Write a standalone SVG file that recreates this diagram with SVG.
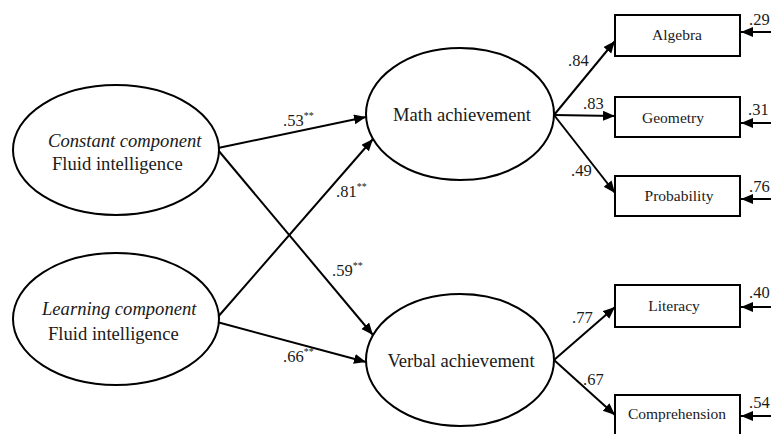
<svg xmlns="http://www.w3.org/2000/svg" width="771" height="434" viewBox="0 0 771 434">
<style>
.shape{fill:#fff;stroke:#000;stroke-width:2}
.edge{stroke:#000;stroke-width:2;fill:none;marker-end:url(#ah)}
text{font-family:"Liberation Serif","Times New Roman",serif;fill:#1a1a1a}
.big{font-size:18.6px}
.mid{font-size:15.5px}
.lab{font-size:16.5px}
.sup{font-size:10px}
.c{text-anchor:middle}
</style>
<defs>
<marker id="ah" markerUnits="userSpaceOnUse" markerWidth="14" markerHeight="12" refX="12" refY="5" orient="auto">
<path d="M0,0 L12,5 L0,10 Z" fill="#000"/>
</marker>
</defs>
<rect width="771" height="434" fill="#fff"/>
<g id="connectors">
<line class="edge" x1="218" y1="148" x2="366" y2="117"/>
<line class="edge" x1="217" y1="318" x2="373" y2="139"/>
<line class="edge" x1="218" y1="150" x2="373" y2="335"/>
<line class="edge" x1="217" y1="322" x2="366" y2="362"/>
<line class="edge" x1="554" y1="115" x2="615" y2="41"/>
<line class="edge" x1="554" y1="115" x2="615" y2="116"/>
<line class="edge" x1="554" y1="115" x2="615" y2="193"/>
<line class="edge" x1="554" y1="360" x2="615" y2="307"/>
<line class="edge" x1="554" y1="360" x2="615" y2="415"/>
<line class="edge" x1="771" y1="32" x2="741" y2="32"/>
<line class="edge" x1="771" y1="123" x2="741" y2="123"/>
<line class="edge" x1="771" y1="199" x2="741" y2="199"/>
<line class="edge" x1="771" y1="307" x2="741" y2="307"/>
<line class="edge" x1="771" y1="416" x2="741" y2="416"/>
<text class="lab" x="283" y="126">.53<tspan class="sup" dy="-7">**</tspan></text>
<text class="lab" x="336" y="197">.81<tspan class="sup" dy="-7">**</tspan></text>
<text class="lab" x="332" y="276">.59<tspan class="sup" dy="-7">**</tspan></text>
<text class="lab" x="283" y="362">.66<tspan class="sup" dy="-7">**</tspan></text>
<text class="lab" x="568" y="66">.84</text>
<text class="lab" x="583" y="109">.83</text>
<text class="lab" x="571" y="176">.49</text>
<text class="lab" x="572" y="323">.77</text>
<text class="lab" x="583" y="385">.67</text>
<text class="lab" x="749" y="25">.29</text>
<text class="lab" x="748" y="115">.31</text>
<text class="lab" x="749" y="192">.76</text>
<text class="lab" x="749" y="298">.40</text>
<text class="lab" x="749" y="408">.54</text>
</g>
<g id="constant">
<ellipse class="shape" cx="116" cy="150" rx="103" ry="65"/>
<text class="big" x="48" y="147" font-style="italic">Constant component</text>
<text class="big" x="52" y="170">Fluid intelligence</text>
</g>
<g id="learning">
<ellipse class="shape" cx="116" cy="319" rx="103" ry="66"/>
<text class="big" x="42" y="315" font-style="italic">Learning component</text>
<text class="big" x="48" y="340">Fluid intelligence</text>
</g>
<g id="math">
<ellipse class="shape" cx="460" cy="114" rx="94" ry="66"/>
<text class="big c" x="462" y="121">Math achievement</text>
</g>
<g id="verbal">
<ellipse class="shape" cx="460" cy="360" rx="94" ry="66"/>
<text class="big c" x="461" y="367">Verbal achievement</text>
</g>
<g id="algebra">
<rect class="shape" x="615" y="15" width="125" height="41"/>
<text class="mid c" x="677" y="40">Algebra</text>
</g>
<g id="geometry">
<rect class="shape" x="615" y="97" width="125" height="40"/>
<text class="mid c" x="673" y="123">Geometry</text>
</g>
<g id="probability">
<rect class="shape" x="615" y="176" width="125" height="40"/>
<text class="mid c" x="679" y="201">Probability</text>
</g>
<g id="literacy">
<rect class="shape" x="615" y="285" width="125" height="42"/>
<text class="mid c" x="674" y="311">Literacy</text>
</g>
<g id="comprehension">
<rect class="shape" x="615" y="395" width="125" height="50"/>
<text class="mid c" x="677" y="419">Comprehension</text>
</g>
</svg>
